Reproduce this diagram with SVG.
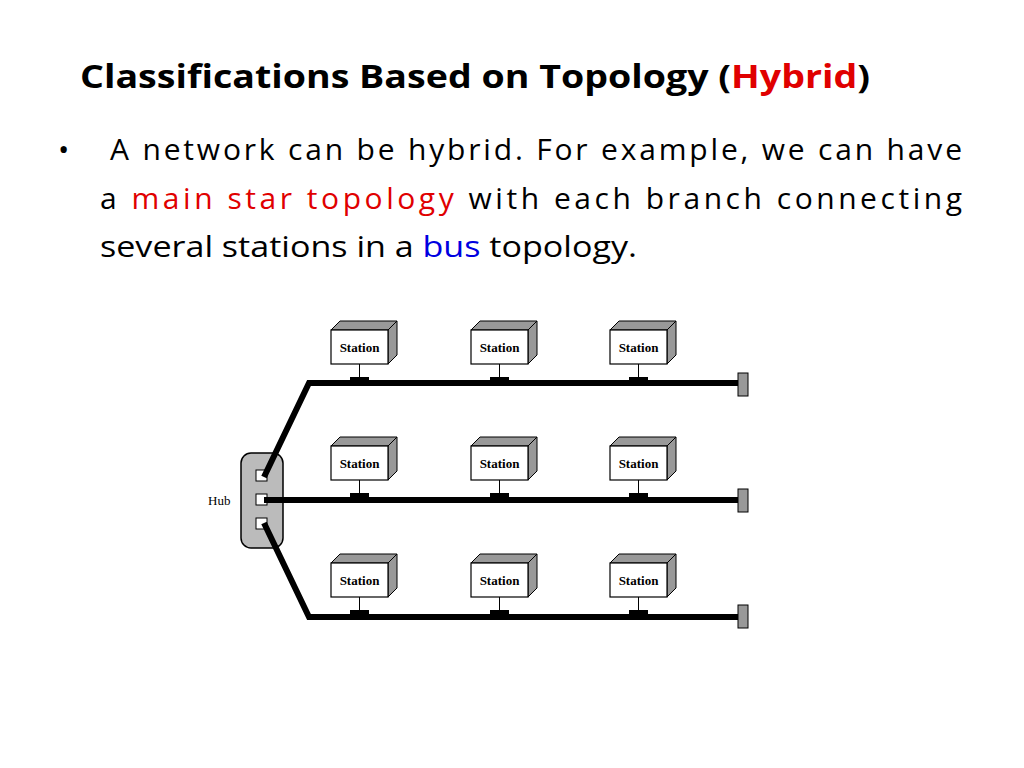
<svg xmlns="http://www.w3.org/2000/svg" width="1024" height="768" viewBox="0 0 1024 768">
<style>
.t{font-family:"Open Sans","Noto Sans",sans-serif}
.st{font-family:"Liberation Serif",serif;font-weight:bold;font-size:13px}
.bus{stroke:#000;stroke-width:6;fill:none}
.front{fill:#fff;stroke:#000;stroke-width:1.2}
.shade{fill:#999;stroke:#000;stroke-width:1}
</style>
<defs>
<g id="station">
<path class="shade" d="M0,9 L9,0 L66,0 L57,9 Z"/>
<path class="shade" d="M57,9 L66,0 L66,34 L57,43 Z" fill="#666"/>
<rect class="front" x="0" y="9" width="57" height="34"/>
<text class="st" x="28.5" y="31" text-anchor="middle">Station</text>
<line x1="28.5" y1="43" x2="28.5" y2="56" stroke="#000" stroke-width="1"/>
<rect x="19" y="56" width="19" height="9" fill="#000"/>
</g>
</defs>
<rect width="1024" height="768" fill="#fff"/>
<text class="t" x="80" y="88" font-size="32" font-weight="bold" fill="#000" textLength="790" lengthAdjust="spacingAndGlyphs">Classifications Based on Topology (<tspan fill="#e00000">Hybrid</tspan>)</text>
<g class="t" font-size="30" fill="#000">
<text x="58" y="160">•</text>
<text x="110" y="160" textLength="852" lengthAdjust="spacing">A network can be hybrid. For example, we can have</text>
<text x="100" y="209" textLength="862" lengthAdjust="spacing">a <tspan fill="#e00000">main star topology</tspan> with each branch connecting</text>
<text x="100" y="257" textLength="537" lengthAdjust="spacingAndGlyphs">several stations in a <tspan fill="#0000e0">bus</tspan> topology.</text>
</g>
<g id="hub">
<rect x="241" y="453" width="42" height="95" rx="10" fill="#bbb" stroke="#000" stroke-width="1.5"/>
<rect x="256" y="470" width="11" height="11" fill="#fff" stroke="#000"/>
<rect x="256" y="494" width="11" height="11" fill="#fff" stroke="#000"/>
<rect x="256" y="518" width="11" height="11" fill="#fff" stroke="#000"/>
<text x="208" y="505" font-family="Liberation Serif,serif" font-size="13">Hub</text>
</g>
<g id="connectors">
<path class="bus" d="M264,477 L309,383 L740,383"/>
<path class="bus" d="M264,500 L740,500"/>
<path class="bus" d="M264,523 L309,617 L740,617"/>
</g>
<g id="terminators" fill="#999" stroke="#000">
<rect x="738" y="373" width="10" height="23"/>
<rect x="738" y="489" width="10" height="23"/>
<rect x="738" y="605" width="10" height="23"/>
</g>
<g id="s1"><use href="#station" x="331" y="321"/></g>
<g id="s2"><use href="#station" x="471" y="321"/></g>
<g id="s3"><use href="#station" x="610" y="321"/></g>
<g id="s4"><use href="#station" x="331" y="437"/></g>
<g id="s5"><use href="#station" x="471" y="437"/></g>
<g id="s6"><use href="#station" x="610" y="437"/></g>
<g id="s7"><use href="#station" x="331" y="554"/></g>
<g id="s8"><use href="#station" x="471" y="554"/></g>
<g id="s9"><use href="#station" x="610" y="554"/></g>
</svg>
